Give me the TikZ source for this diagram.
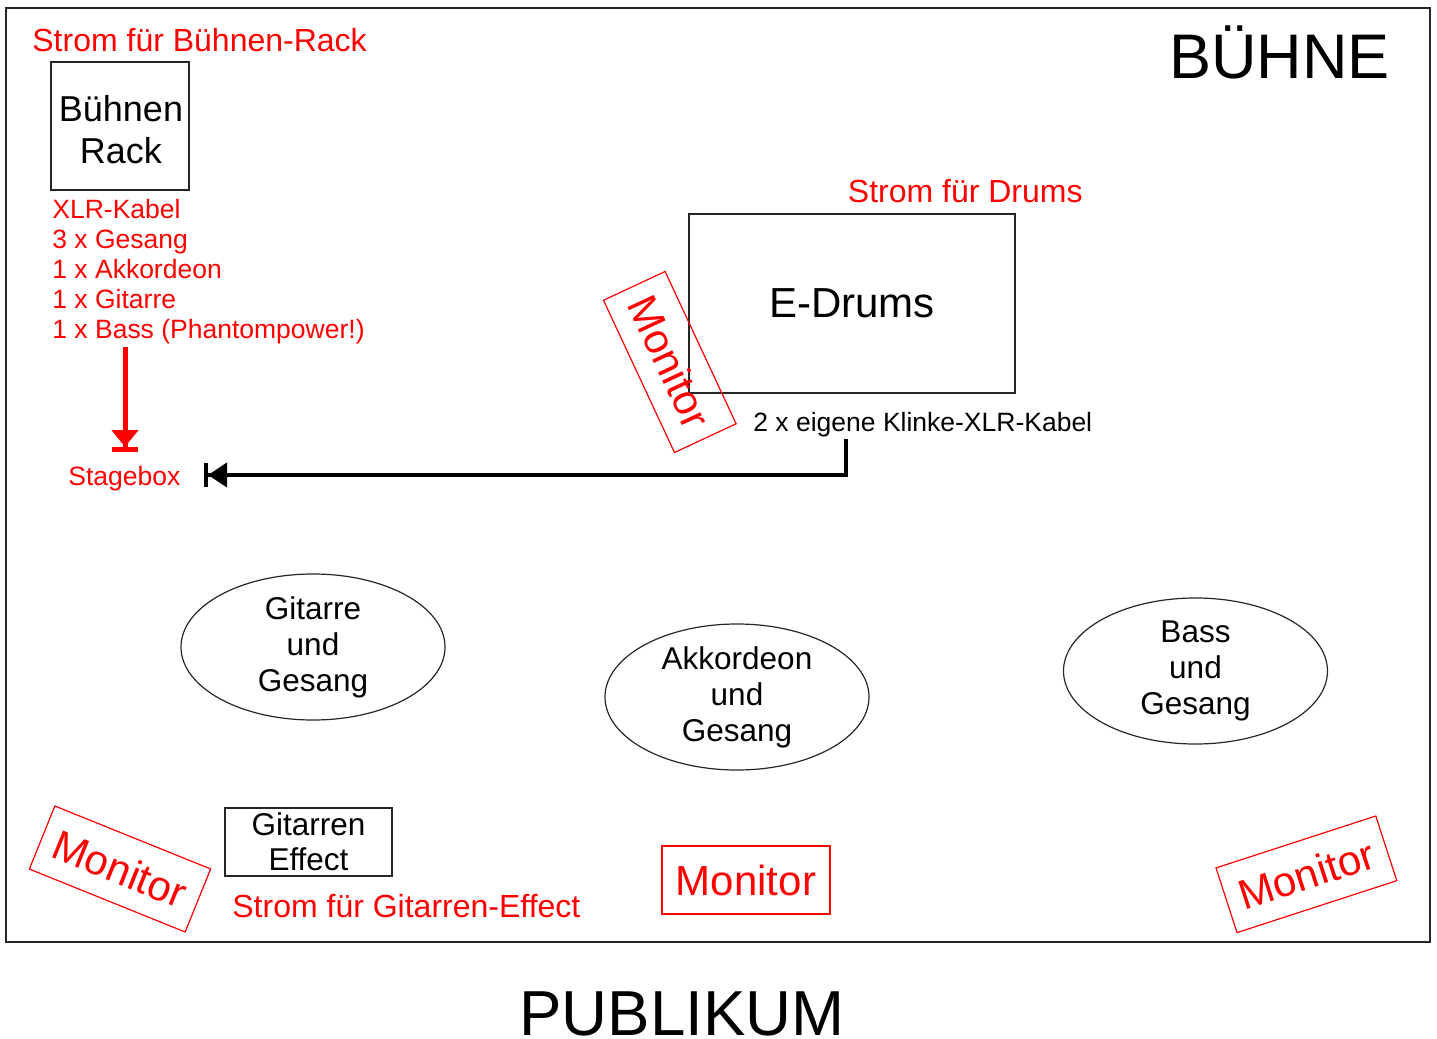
\documentclass[tikz,border=0pt]{standalone}
\usepackage{fontspec}
\setmainfont{Liberation Sans}
\usetikzlibrary{arrows.meta,shapes.geometric}
\begin{document}
\begin{tikzpicture}[x=0.5pt,y=-0.5pt,
  box/.style={draw=black!85,line width=0.6pt,inner sep=0pt,align=center},
  redbox/.style={draw=red,line width=0.6pt,inner sep=0pt,text=red,font=\fontsize{21}{24}\selectfont,minimum width=84pt,minimum height=34pt},
  oval/.style={ellipse,draw=black!85,line width=0.6pt,inner sep=0pt,minimum width=132pt,minimum height=73pt,align=center,font=\fontsize{15.75}{18}\selectfont},
  redtxt/.style={text=red,inner sep=0pt,font=\fontsize{16}{19}\selectfont},
  smalltxt/.style={inner sep=0pt,font=\fontsize{13.25}{15}\selectfont},
]
\useasboundingbox (0,0) rectangle (1437,1039);
\node[draw=black!85,line width=0.6pt,minimum width=712pt,minimum height=467pt,inner sep=0pt] (frame) at (718,475) {};

% boxes
\node[box,minimum width=69pt,minimum height=64pt] (rack) at (120,126) {};
\node[inner sep=0pt,align=center,font=\fontsize{18}{21}\selectfont] (racktext) at (121,130) {Bühnen\\Rack};
\node[box,minimum width=163pt,minimum height=89.5pt,font=\fontsize{21}{24}\selectfont] (drums) at (852,303.5) {E-Drums};
\node[box,minimum width=83.5pt,minimum height=34pt,font=\fontsize{15.75}{17.5}\selectfont] (effect) at (308.5,842) {Gitarren\\Effect};

% ovals
\node[oval] (gitarre) at (313,647) {Gitarre\\und\\Gesang};
\node[oval] (akk) at (737,697) {Akkordeon\\und\\Gesang};
\node[oval] (bass) at (1195.5,671) {Bass\\und\\Gesang};

% monitors
\node[redbox,rotate=-65] (mondrums) at (669.8,362) {Monitor};
\node[redbox,rotate=-22] (monleft) at (120,869) {Monitor};
\node[redbox,rotate=18] (monright) at (1306.4,874.3) {Monitor};
\node[redbox] (moncenter) at (746,880) {Monitor};

% texts
\node[redtxt,anchor=base west] (stromrack) at (32,51) {Strom für Bühnen-Rack};
\node[anchor=base east,inner sep=0pt,font=\fontsize{31.5}{36}\selectfont] (buehne) at (1390,78) {BÜHNE};
\node[redtxt,anchor=base east] (stromdrums) at (1083,202.5) {Strom für Drums};
\node[smalltxt,text=red,anchor=north west,align=left] (xlr) at (52,199) {XLR-Kabel\\3 x Gesang\\1 x Akkordeon\\1 x Gitarre\\1 x Bass (Phantompower!)};
\node[smalltxt,text=red,anchor=base west] (stagebox) at (68,485.5) {Stagebox};
\node[smalltxt,anchor=base west] (klinke) at (753,431.5) {2 x eigene Klinke-XLR-Kabel};
\node[redtxt,anchor=base west] (stromfx) at (232,917.5) {Strom für Gitarren-Effect};
\node[anchor=base,inner sep=0pt,font=\fontsize{31.8}{36}\selectfont] (publikum) at (682,1035) {PUBLIKUM};

% arrows
\coordinate (rstart) at (125,347);
\coordinate (rend) at (125,452);
\draw[red,line width=2.5pt,-{Triangle[length=8.5pt,width=13pt]Bar[width=13pt,line width=2.5pt]}] (rstart) -- (rend);
\coordinate (kstart) at (846,439);
\coordinate (kend) at (204,475);
\draw[line width=2pt,-{Triangle[length=9.5pt,width=12pt]Bar[width=12pt,line width=2pt]}] (kstart) |- (kend);
\end{tikzpicture}
\end{document}
